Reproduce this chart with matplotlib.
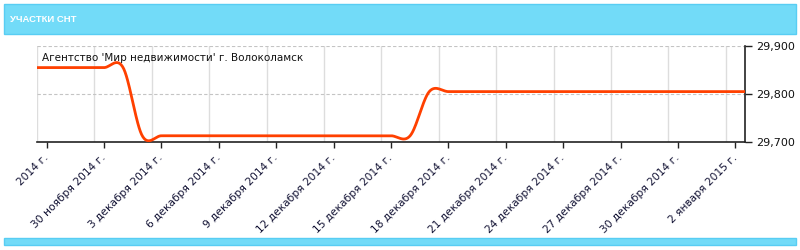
import numpy as np
import matplotlib
matplotlib.use("Agg")
import matplotlib.pyplot as plt
from matplotlib.patches import Rectangle

# ---- data (daily values, day 0 = 27 Nov 2014) ----
start_day = -1
values = [29855, 29855, 29855, 29855, 29855, 29855,
          29713, 29713, 29713, 29713, 29713, 29713, 29713, 29713,
          29713, 29713, 29713, 29713, 29713, 29713, 29713,
          29805, 29805, 29805, 29805, 29805, 29805, 29805, 29805, 29805,
          29805, 29805, 29805, 29805, 29805, 29805, 29805, 29805, 29805]
tick_days = [0, 3, 6, 9, 12, 15, 18, 21, 24, 27, 30, 33, 36]
tick_labels = ["2014 г.", "30 ноября 2014 г.", "3 декабря 2014 г.",
               "6 декабря 2014 г.", "9 декабря 2014 г.", "12 декабря 2014 г.",
               "15 декабря 2014 г.", "18 декабря 2014 г.", "21 декабря 2014 г.",
               "24 декабря 2014 г.", "27 декабря 2014 г.", "30 декабря 2014 г.",
               "2 января 2015 г."]
y_ticks = [29700, 29800, 29900]
y_tick_labels = ["29,700", "29,800", "29,900"]
series_name = "Агентство 'Мир недвижимости' г. Волоколамск"
title = "УЧАСТКИ СНТ"

plt.rcParams['font.family'] = ['DejaVu Sans']

x = np.arange(len(values)) + start_day
y = np.array(values, dtype=float)

# Catmull-Rom smoothed rendering
def catmull_rom(xs, ys, n=30):
    px, py = [], []
    N = len(xs)
    for i in range(N - 1):
        y0 = ys[i - 1] if i > 0 else ys[i]
        y3 = ys[i + 2] if i + 2 < N else ys[i + 1]
        m1 = (ys[i + 1] - y0) / 2.0
        m2 = (y3 - ys[i]) / 2.0
        t = np.linspace(0, 1, n, endpoint=False)
        h00 = 2 * t**3 - 3 * t**2 + 1
        h10 = t**3 - 2 * t**2 + t
        h01 = -2 * t**3 + 3 * t**2
        h11 = t**3 - t**2
        px.append(xs[i] + t * (xs[i + 1] - xs[i]))
        py.append(h00 * ys[i] + h10 * m1 + h01 * ys[i + 1] + h11 * m2)
    px.append([xs[-1]]); py.append([ys[-1]])
    return np.concatenate(px), np.concatenate(py)

sx, sy = catmull_rom(x, y)

fig = plt.figure(figsize=(8, 2.5), dpi=100)
fig.patch.set_facecolor('white')

# header bar
fig.patches.append(Rectangle((4/800, 1-34/250), 792/800, 30/250, transform=fig.transFigure,
                             facecolor='#72DBF8', edgecolor='#58CDF3', linewidth=1, zorder=0))
fig.text(10/800, 1-19.5/250, title, color='white', fontsize=6.8, fontweight='bold',
         family=['Liberation Sans', 'DejaVu Sans'], ha='left', va='center')
# bottom bar
fig.patches.append(Rectangle((4/800, 1-245/250), 792/800, 7/250, transform=fig.transFigure,
                             facecolor='#72DBF8', edgecolor='#58CDF3', linewidth=1, zorder=0))

ax = fig.add_axes([37/800, 1-142/250, 708/800, 96/250])
ax.set_xlim(-0.5, 36.5)
ax.set_ylim(29700, 29900)

# grids
for gx in np.arange(-0.5, 36.5, 3):
    ax.axvline(gx, color='#dddddd', lw=1, zorder=1)
for gy in [29800, 29900]:
    ax.axhline(gy, color='#c4c4c4', lw=0.8, ls=(0, (3, 2)), zorder=1)

ax.plot(sx, sy, color='#FF4000', lw=2, zorder=3, solid_capstyle='round')

for s in ['top', 'left']:
    ax.spines[s].set_visible(False)
ax.spines['bottom'].set_color('#222222')
ax.spines['right'].set_color('#222222')
ax.spines['bottom'].set_linewidth(1.2)
ax.spines['right'].set_linewidth(1.2)

ax.yaxis.tick_right()
ax.set_yticks(y_ticks)
ax.set_yticklabels(y_tick_labels, fontsize=8, color='#111111')
ax.tick_params(axis='y', length=5, width=1, color='#222222', pad=3)

ax.set_xticks(tick_days)
ax.set_xticklabels(tick_labels, fontsize=7.7, color='#111133', rotation=45,
                   ha='right', va='center', rotation_mode='anchor')
ax.tick_params(axis='x', length=4, width=1, color='#222222', pad=6)

ax.text(5/708, 0.87, series_name, transform=ax.transAxes, fontsize=7.5,
        color='#111111', ha='left', va='center', zorder=4)

fig.savefig('out.png', dpi=100, facecolor='white')
